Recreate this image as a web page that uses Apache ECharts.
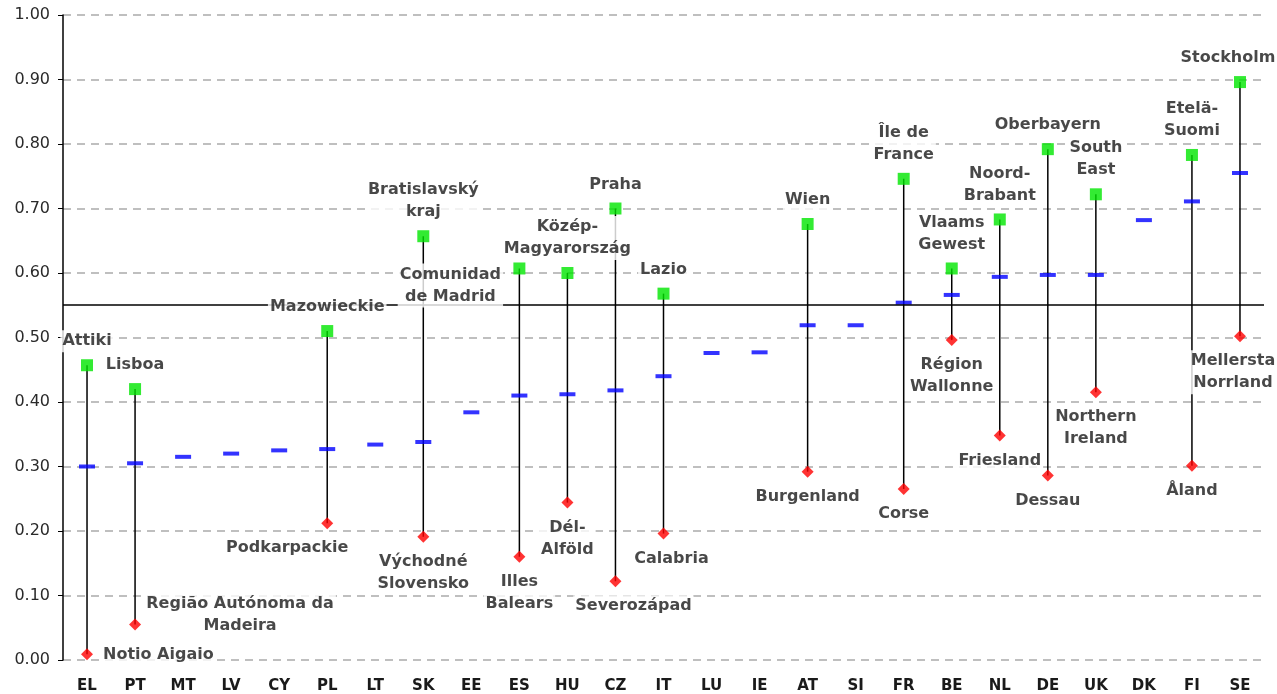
<!DOCTYPE html>
<html>
<head>
<meta charset="utf-8">
<script src="https://cdn.jsdelivr.net/npm/echarts@6/dist/echarts.min.js"></script>
<style>
html,body{margin:0;padding:0;background:#fff;}
#chart{width:1277px;height:694px;}
</style>
</head>
<body>
<div id="chart"></div>
<script>
const categories = ['EL','PT','MT','LV','CY','PL','LT','SK','EE','ES','HU','CZ','IT','LU','IE','AT','SI','FR','BE','NL','DE','UK','DK','FI','SE'];
const avgValues = [0.300,0.305,0.315,0.320,0.325,0.327,0.334,0.338,0.384,0.410,0.412,0.418,0.440,0.476,0.477,0.519,0.519,0.554,0.566,0.594,0.597,0.597,0.682,0.711,0.755];
const maxValues = [0.457,0.420,null,null,null,0.510,null,0.657,null,0.607,0.600,0.700,0.568,null,null,0.676,null,0.746,0.607,0.683,0.792,0.722,null,0.783,0.896];
const minValues = [0.009,0.055,null,null,null,0.212,null,0.191,null,0.160,0.244,0.122,0.196,null,null,0.292,null,0.265,0.496,0.348,0.286,0.415,null,0.301,0.502];
const maxRegions = ['Attiki','Lisboa',null,null,null,'Mazowieckie',null,'Bratislavský\nkraj',null,'Comunidad\nde Madrid','Közép-\nMagyarország','Praha','Lazio',null,null,'Wien',null,'Île de\nFrance','Vlaams\nGewest','Noord-\nBrabant','Oberbayern','South\nEast',null,'Etelä-\nSuomi','Stockholm'];
const minRegions = ['Notio Aigaio','Região Autónoma da\nMadeira',null,null,null,'Podkarpackie',null,'Východné\nSlovensko',null,'Illes\nBalears','Dél-\nAlföld','Severozápad','Calabria',null,null,'Burgenland',null,'Corse','Région\nWallonne','Friesland','Dessau','Northern\nIreland',null,'Åland','Mellersta\nNorrland'];
const yTicks = [0,0.1,0.2,0.3,0.4,0.5,0.6,0.7,0.8,0.9,1.0];
const referenceLevel = 0.55;

// label placement overrides (style only)
const maxLabelLayout = { ES:{offset:[-69,52]}, SE:{offset:[-12,0]} };
const minLabelLayout = { EL:{position:'right',distance:8,offset:[0,1]}, PT:{offset:[105,-46]}, PL:{offset:[-40,0]}, CZ:{offset:[18,0]}, IT:{offset:[8,0]}, SE:{offset:[-7,0]} };

const FONT = 'DejaVu Sans';
const TEXT = '#1a1a1a';
const labelBase = {show:true, fontFamily:FONT, fontWeight:'bold', fontSize:16, color:TEXT, lineHeight:22, backgroundColor:'#fff', padding:[0,2]};

const maxData = categories.map((c,i)=> maxValues[i]==null ? '-' : {value:[c,maxValues[i]], label:Object.assign({}, maxLabelLayout[c]||{})});
const minData = categories.map((c,i)=> minValues[i]==null ? '-' : {value:[c,minValues[i]], label:Object.assign({}, minLabelLayout[c]||{})});
const avgData = categories.map((c,i)=> [c, avgValues[i]]);
const rangeData = [];
categories.forEach((c,i)=>{ if(minValues[i]!=null && maxValues[i]!=null) rangeData.push([i,minValues[i],maxValues[i]]); });

const chart = echarts.init(document.getElementById('chart'));
chart.setOption({
  animation:false,
  backgroundColor:'#fff',
  grid:{left:63, right:13, top:15, bottom:34},
  xAxis:{type:'category', data:categories, boundaryGap:true,
    axisLine:{show:false}, axisTick:{show:false},
    axisLabel:{fontFamily:FONT, fontWeight:'bold', fontSize:15, color:TEXT, margin:19},
    splitLine:{show:false}},
  yAxis:{type:'value', min:0, max:1, interval:0.1,
    axisLine:{show:true, lineStyle:{color:'#000', width:1.5}},
    axisTick:{show:true, length:5, lineStyle:{color:'#000'}},
    axisLabel:{fontFamily:FONT, fontSize:16, color:'#2a2a2a', margin:13, formatter:v=>v.toFixed(2)},
    splitLine:{show:true, lineStyle:{color:'#aaa', type:[8,6], width:1.5}}},
  series:[
    {type:'custom', z:1, data:rangeData, encode:{x:0,y:[1,2]},
      renderItem:(params,api)=>{
        const a = api.coord([api.value(0), api.value(1)]);
        const b = api.coord([api.value(0), api.value(2)]);
        return {type:'line', shape:{x1:a[0],y1:a[1],x2:b[0],y2:b[1]}, style:{stroke:'#000', lineWidth:1.5}};
      },
      markLine:{silent:true, symbol:'none', label:{show:false}, lineStyle:{color:'#000', width:1.5, type:'solid'}, data:[{yAxis:referenceLevel}]}
    },
    {type:'scatter', name:'Average', z:4, data:avgData, symbol:'rect', symbolSize:[16,4], itemStyle:{color:'#0000ff'}},
    {type:'scatter', name:'Maximum', z:5, data:maxData, symbol:'rect', symbolSize:12, itemStyle:{color:'#00e600'},
      label:Object.assign({}, labelBase, {position:'top', distance:7, formatter:p=>maxRegions[p.dataIndex]})},
    {type:'scatter', name:'Minimum', z:5, data:minData, symbol:'diamond', symbolSize:12, itemStyle:{color:'#ff0000'},
      label:Object.assign({}, labelBase, {position:'bottom', distance:8, formatter:p=>minRegions[p.dataIndex]})}
  ]
});
</script>
</body>
</html>
